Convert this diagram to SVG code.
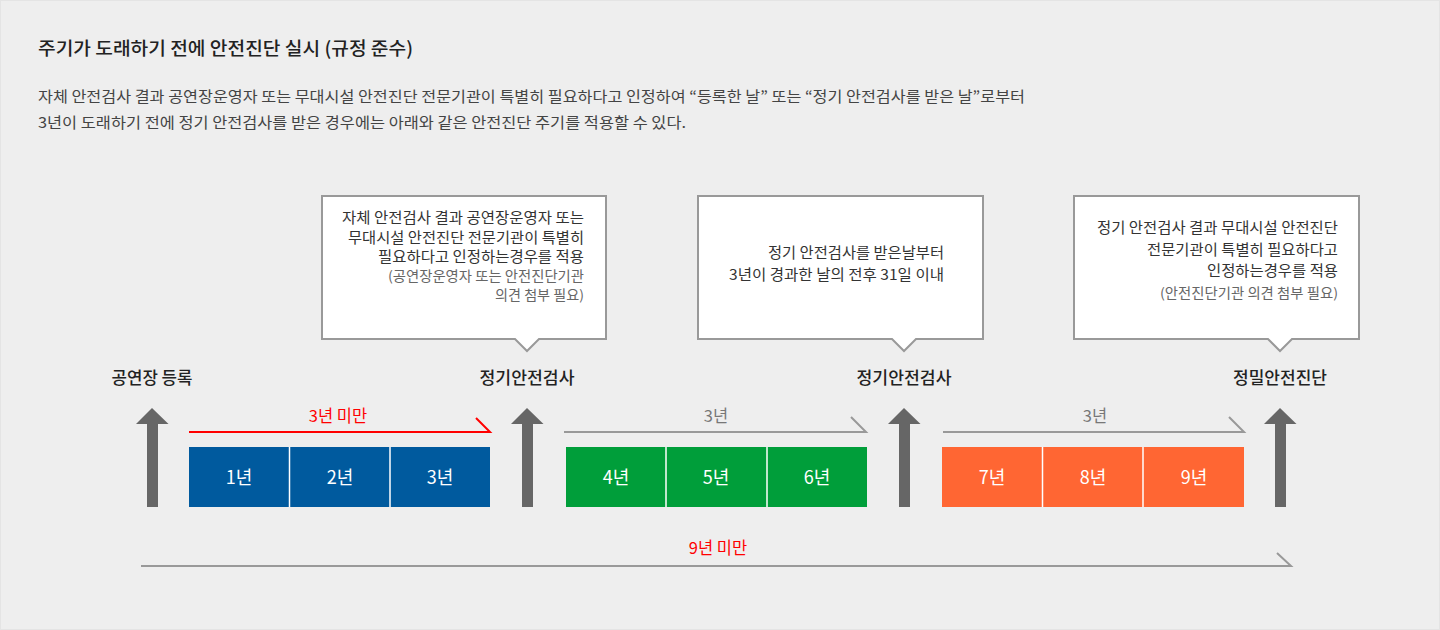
<svg xmlns="http://www.w3.org/2000/svg" width="1440" height="630" viewBox="0 0 1440 630">
<style>
text{font-family:"Noto Sans CJK KR","Noto Sans",sans-serif}
.title{font-size:18.5px;font-weight:500;fill:#222}
.para{font-size:15px;fill:#444}
.box{fill:#fff;stroke:#999;stroke-width:2}
.ctext{font-size:14.5px;fill:#333;text-anchor:end}
.csmall{font-size:13.5px;fill:#666;text-anchor:end}
.lbl{font-size:16.5px;font-weight:500;fill:#222;text-anchor:middle}
.arrow{fill:#666}
.yr{font-size:18px;fill:#fff;text-anchor:middle}
.sep{stroke:#fff;stroke-width:1.5}
.gline{fill:none;stroke:#999;stroke-width:2}
.rline{fill:none;stroke:#f00;stroke-width:2}
.gtxt{font-size:16.5px;fill:#777;text-anchor:middle}
.rtxt{font-size:16.5px;fill:#f00;text-anchor:middle}
</style>
<rect x="0.5" y="0.5" width="1439" height="629" fill="#eeeeee" stroke="#e4e4e4"/>
<text class="title" x="38" y="55" textLength="375" lengthAdjust="spacingAndGlyphs">주기가 도래하기 전에 안전진단 실시 (규정 준수)</text>
<text class="para" x="38" y="102" textLength="987" lengthAdjust="spacingAndGlyphs">자체 안전검사 결과 공연장운영자 또는 무대시설 안전진단 전문기관이 특별히 필요하다고 인정하여 “등록한 날” 또는 “정기 안전검사를 받은 날”로부터</text>
<text class="para" x="38" y="128" textLength="648" lengthAdjust="spacingAndGlyphs">3년이 도래하기 전에 정기 안전검사를 받은 경우에는 아래와 같은 안전진단 주기를 적용할 수 있다.</text>

<g id="callout1">
<path class="box" d="M322,196 H606 V339 H539 L527,351 L515,339 H322 Z"/>
<text class="ctext" x="584" y="223" textLength="242" lengthAdjust="spacingAndGlyphs">자체 안전검사 결과 공연장운영자 또는</text>
<text class="ctext" x="584" y="243" textLength="236" lengthAdjust="spacingAndGlyphs">무대시설 안전진단 전문기관이 특별히</text>
<text class="ctext" x="584" y="262" textLength="206" lengthAdjust="spacingAndGlyphs">필요하다고 인정하는경우를 적용</text>
<text class="csmall" x="584" y="281" textLength="196" lengthAdjust="spacingAndGlyphs">(공연장운영자 또는 안전진단기관</text>
<text class="csmall" x="584" y="300" textLength="89" lengthAdjust="spacingAndGlyphs">의견 첨부 필요)</text>
</g>
<g id="callout2">
<path class="box" d="M698,196 H983 V339 H916 L904,351 L892,339 H698 Z"/>
<text class="ctext" x="944" y="258" textLength="176" lengthAdjust="spacingAndGlyphs">정기 안전검사를 받은날부터</text>
<text class="ctext" x="944" y="280" textLength="215" lengthAdjust="spacingAndGlyphs">3년이 경과한 날의 전후 31일 이내</text>
</g>
<g id="callout3">
<path class="box" d="M1074,196 H1359 V339 H1292 L1280,351 L1268,339 H1074 Z"/>
<text class="ctext" x="1338" y="233" textLength="241" lengthAdjust="spacingAndGlyphs">정기 안전검사 결과 무대시설 안전진단</text>
<text class="ctext" x="1338" y="255" textLength="191" lengthAdjust="spacingAndGlyphs">전문기관이 특별히 필요하다고</text>
<text class="ctext" x="1338" y="276" textLength="131" lengthAdjust="spacingAndGlyphs">인정하는경우를 적용</text>
<text class="csmall" x="1338" y="298" textLength="178" lengthAdjust="spacingAndGlyphs">(안전진단기관 의견 첨부 필요)</text>
</g>

<g id="milestone-register">
<text class="lbl" x="152" y="384" textLength="81" lengthAdjust="spacingAndGlyphs">공연장 등록</text>
<path class="arrow" d="M152,408 L168.5,424 H158 V507 H147 V424 H136 Z"/>
</g>
<g id="milestone-inspection1">
<text class="lbl" x="527" y="384" textLength="95" lengthAdjust="spacingAndGlyphs">정기안전검사</text>
<path class="arrow" d="M527,408 L543.5,424 H533 V507 H522 V424 H511 Z"/>
</g>
<g id="milestone-inspection2">
<text class="lbl" x="904" y="384" textLength="95" lengthAdjust="spacingAndGlyphs">정기안전검사</text>
<path class="arrow" d="M904,408 L920.5,424 H910 V507 H899 V424 H888 Z"/>
</g>
<g id="milestone-diagnosis">
<text class="lbl" x="1280" y="384" textLength="94" lengthAdjust="spacingAndGlyphs">정밀안전진단</text>
<path class="arrow" d="M1280,408 L1296.5,424 H1286 V507 H1275 V424 H1264 Z"/>
</g>

<g id="bar-blue">
<rect x="189" y="447" width="301" height="60" fill="#005a9e"/>
<line class="sep" x1="289.5" y1="447" x2="289.5" y2="507"/>
<line class="sep" x1="390" y1="447" x2="390" y2="507"/>
<text class="yr" x="239" y="484">1년</text>
<text class="yr" x="340" y="484">2년</text>
<text class="yr" x="440" y="484">3년</text>
</g>
<g id="bar-green">
<rect x="566" y="447" width="301" height="60" fill="#009e3a"/>
<line class="sep" x1="666" y1="447" x2="666" y2="507"/>
<line class="sep" x1="767" y1="447" x2="767" y2="507"/>
<text class="yr" x="616" y="484">4년</text>
<text class="yr" x="716" y="484">5년</text>
<text class="yr" x="817" y="484">6년</text>
</g>
<g id="bar-orange">
<rect x="942" y="447" width="302" height="60" fill="#ff6633"/>
<line class="sep" x1="1042.5" y1="447" x2="1042.5" y2="507"/>
<line class="sep" x1="1143" y1="447" x2="1143" y2="507"/>
<text class="yr" x="992" y="484">7년</text>
<text class="yr" x="1093" y="484">8년</text>
<text class="yr" x="1194" y="484">9년</text>
</g>

<g id="connectors">
<path class="rline" d="M189,432 H490 L476,418"/>
<text class="rtxt" x="338" y="422">3년 미만</text>
<path class="gline" d="M564,432 H866 L851,417"/>
<text class="gtxt" x="716" y="422">3년</text>
<path class="gline" d="M943,432 H1244 L1229,417"/>
<text class="gtxt" x="1095" y="422">3년</text>
<path class="gline" d="M141,566 H1291 L1277,553"/>
<text class="rtxt" x="718" y="554">9년 미만</text>
</g>
</svg>
